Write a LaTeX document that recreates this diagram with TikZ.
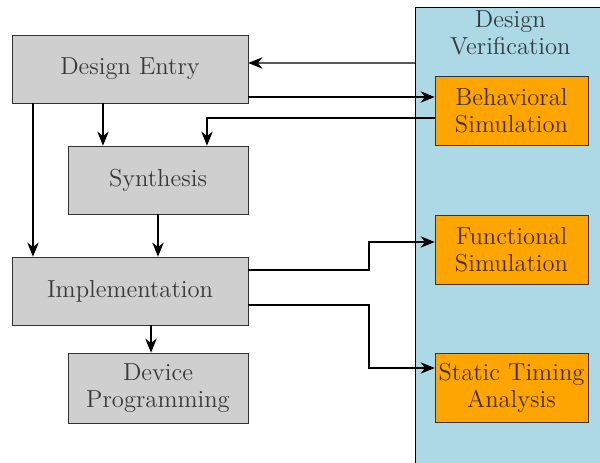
\documentclass[tikz,border=0pt]{standalone}
\usepackage{tikz}
\usetikzlibrary{arrows, arrows.meta, positioning}
\definecolor{verifblue}{RGB}{173,216,230}
\definecolor{simorange}{RGB}{255,165,0}

\begin{document}
\begin{tikzpicture}[every node/.style={font=\fontsize{14}{15.5}\selectfont, text opacity=0.72},
                    box/.style={draw=black!80, rectangle, fill=gray!38, minimum height=1.36cm, align=center},
                    sim/.style={draw=black!80, rectangle, fill=simorange, minimum width=3.06cm, minimum height=1.38cm, align=center, inner sep=0pt},
                    arr/.style={-{Stealth[length=8pt, width=6.5pt, inset=2.5pt]}, line width=0.6pt}]
                    \clip (0,0) rectangle (12,9.26);
                    % verification panel
                    \node[draw, rectangle, fill=verifblue, anchor=north west, minimum width=3.8cm, minimum height=9.5cm] (verif) at (8.3,9.12) {};
                    \node[anchor=north, align=center, inner sep=2pt] (vtitle) at (verif.north) {Design\\Verification};
                    % flow
                    \node[box, minimum width=4.72cm] (entry) at (2.6,7.88) {Design Entry};
                    \node[box, minimum width=3.6cm] (synth) at (3.16,5.66) {Synthesis};
                    \node[box, minimum width=4.72cm] (impl) at (2.6,3.44) {Implementation};
                    \node[box, minimum width=3.6cm, minimum height=1.4cm] (prog) at (3.16,1.5) {Device\\Programming};
                    \node[sim] (behav) at (10.23,7.05) {Behavioral\\Simulation};
                    \node[sim] (func) at (10.23,4.27) {Functional\\Simulation};
                    \node[sim] (sta) at (10.23,1.51) {Static Timing\\Analysis};
                    \draw[arr] (verif.west |- 0,8) -- ([yshift=0.12cm]entry.east);
                    \draw[arr] ([yshift=-0.56cm]entry.east) -- ([yshift=0.27cm]behav.west);
                    \draw[arr] ([yshift=-0.15cm]behav.west) -| ([xshift=0.98cm]synth.north);
                    \draw[arr] (entry.south -| 2.06,0) -- (synth.north -| 2.06,0);
                    \draw[arr] (entry.south -| 0.66,0) -- (impl.north -| 0.66,0);
                    \draw[arr] (synth.south) -- (synth.south |- impl.north);
                    \draw[arr] ([yshift=0.42cm]impl.east) -| (7.38,4.42) -- ([yshift=0.15cm]func.west);
                    \draw[arr] ([yshift=-0.28cm]impl.east) -| (7.38,1.9) -- ([yshift=0.39cm]sta.west);
                    \draw[arr] (impl.south -| 3.02,0) -- (prog.north -| 3.02,0);
                \end{tikzpicture}
\end{document}
